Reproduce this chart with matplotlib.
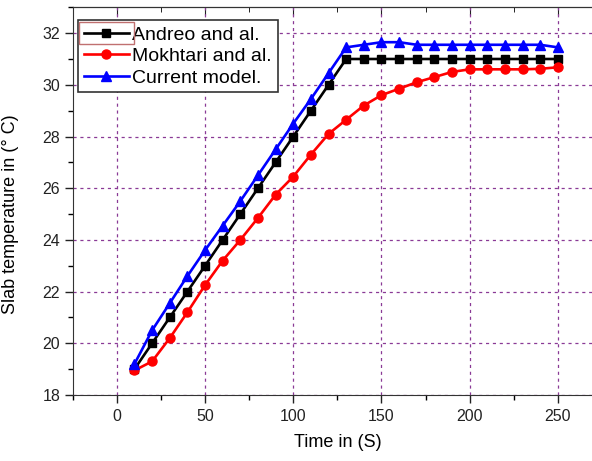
import matplotlib
matplotlib.use("Agg")
import matplotlib.pyplot as plt
from matplotlib.patches import Rectangle
from matplotlib.ticker import MultipleLocator

time_s = [10, 20, 30, 40, 50, 60, 70, 80, 90, 100, 110, 120, 130,
          140, 150, 160, 170, 180, 190, 200, 210, 220, 230, 240, 250]
andreo = [19, 20, 21, 22, 23, 24, 25, 26, 27, 28, 29, 30, 31,
          31, 31, 31, 31, 31, 31, 31, 31, 31, 31, 31, 31]
mokhtari = [18.95, 19.3, 20.2, 21.2, 22.25, 23.2, 24.0, 24.85, 25.75, 26.45, 27.3, 28.1, 28.65,
            29.2, 29.6, 29.85, 30.1, 30.3, 30.5, 30.6, 30.6, 30.6, 30.6, 30.62, 30.68]
current = [19.2, 20.5, 21.55, 22.6, 23.6, 24.55, 25.5, 26.5, 27.5, 28.5, 29.45, 30.45, 31.45,
           31.55, 31.65, 31.65, 31.55, 31.55, 31.55, 31.55, 31.55, 31.55, 31.55, 31.55, 31.45]
labels = ["Andreo and al.", "Mokhtari and al.", "Current model."]
x_ticks = [0, 50, 100, 150, 200, 250]
y_ticks = [18, 20, 22, 24, 26, 28, 30, 32]

plt.rcParams['font.family'] = ['Liberation Sans', 'DejaVu Sans']

fig = plt.figure(figsize=(5.92, 4.61), dpi=100)
W, H = 592, 461
left_px, right_px, top_px, bot_px = 72.7, 602, 7.3, 395
ax = fig.add_axes([left_px / W, 1 - bot_px / H, (right_px - left_px) / W, (bot_px - top_px) / H])

ax.plot(time_s, andreo, color='black', lw=1.9, marker='s', ms=5.8, label=labels[0], zorder=3)
ax.plot(time_s, mokhtari, color='#ff0000', lw=1.9, marker='o', ms=6.5, label=labels[1], zorder=3)
ax.plot(time_s, current, color='#0000ff', lw=1.9, marker='^', ms=7, label=labels[2], zorder=4)

ax.set_xlim(-25, 275)
ax.set_ylim(18, 33)
ax.set_xticks(x_ticks)
ax.set_yticks(y_ticks)
ax.xaxis.set_minor_locator(MultipleLocator(25))
ax.yaxis.set_minor_locator(MultipleLocator(1))
ax.tick_params(axis='both', which='major', direction='out', length=6, width=1, labelsize=11.5, colors='#222222')
ax.tick_params(axis='both', which='minor', direction='out', length=3.5, width=1)
ax.tick_params(axis='x', which='major', pad=4)
ax.tick_params(axis='y', which='major', pad=3)

sec = ax.secondary_xaxis('top')
sec.set_xticks(x_ticks)
sec.xaxis.set_minor_locator(MultipleLocator(25))
sec.tick_params(which='major', direction='in', length=6, labeltop=False, colors='#222222')
sec.tick_params(which='minor', direction='in', length=3.5)

ax.grid(True, which='major', color='#8a3a96', linestyle=(0, (2.5, 3)), lw=0.9)
for s in ax.spines.values():
    s.set_color('#333333')

ax.set_xlabel("Time in (S)", fontsize=13, labelpad=7)
ax.set_ylabel("Slab temperature in (\u00b0 C)", fontsize=13)
ax.yaxis.set_label_coords(-0.101, 0.467)

leg = ax.legend(loc='upper left', bbox_to_anchor=(0.01, 0.967), borderaxespad=0,
                fontsize=14, fancybox=False, framealpha=1, edgecolor='#333333',
                handlelength=2.3, handletextpad=0.2, labelspacing=0.2, borderpad=0.3)
leg.get_frame().set_linewidth(1.2)

# selection box around the first legend handle (as in the reference)
fig.canvas.draw()
renderer = fig.canvas.get_renderer()
hb = leg.get_lines()[0].get_window_extent(renderer)
x0, x1 = hb.x0 - 1, hb.x1 + 1
yc = (hb.y0 + hb.y1) / 2
fig.patches.append(Rectangle((x0 / W, (yc - 11) / H), (x1 - x0) / W, 22 / H,
                             transform=fig.transFigure, fill=False,
                             edgecolor='#c07070', lw=1, zorder=10))

fig.savefig("out.png", dpi=100)
